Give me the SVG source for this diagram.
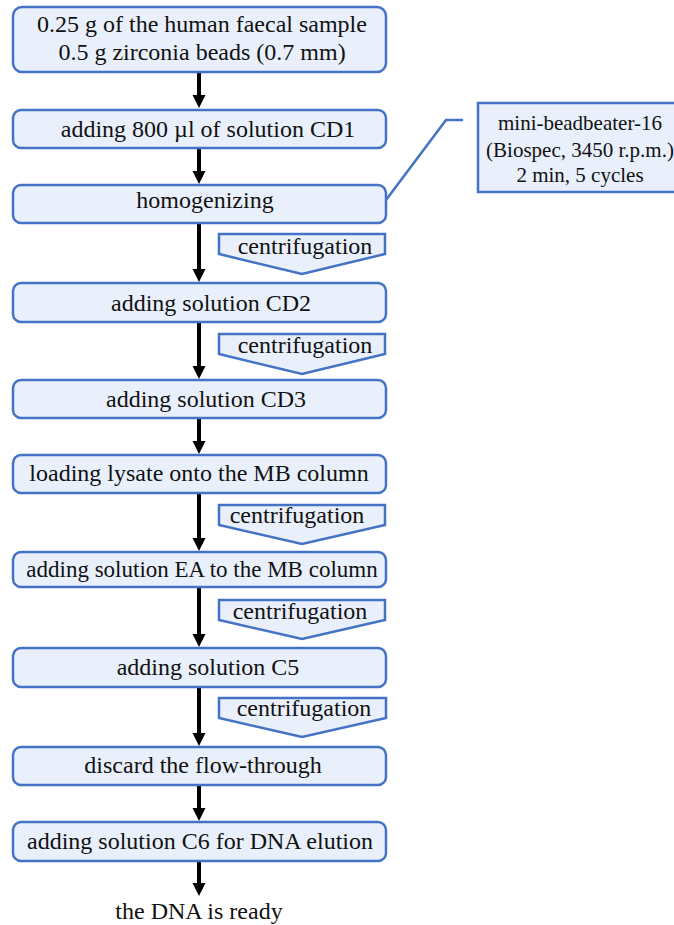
<svg xmlns="http://www.w3.org/2000/svg" width="674" height="925" viewBox="0 0 674 925">
<style>
.box{fill:#e9f0fc;stroke:#4472c4;stroke-width:2.5}
.cf{fill:#e9f0fc;stroke:#4472c4;stroke-width:2.5;stroke-linejoin:miter}
.t{font-family:"Liberation Serif","Times New Roman",serif;font-size:24px;fill:#111;text-anchor:middle}
.s{font-family:"Liberation Serif","Times New Roman",serif;font-size:21px;fill:#111;text-anchor:middle}
.arr{stroke:#000;stroke-width:4;fill:none;marker-end:url(#ah)}
.lead{stroke:#4472c4;stroke-width:2.5;fill:none}
</style>
<defs>
<marker id="ah" markerUnits="userSpaceOnUse" markerWidth="14" markerHeight="14" refX="5" refY="6.5" orient="auto">
<path d="M0,0 L13,6.5 L0,13 Z" fill="#000"/>
</marker>
</defs>
<rect width="674" height="925" fill="#fff"/>
<g id="connectors">
<line class="arr" x1="199" y1="72" x2="199" y2="100"/>
<line class="arr" x1="199" y1="148" x2="199" y2="176"/>
<line class="arr" x1="199" y1="223" x2="199" y2="274"/>
<line class="arr" x1="199" y1="322" x2="199" y2="371"/>
<line class="arr" x1="199" y1="418" x2="199" y2="446"/>
<line class="arr" x1="199" y1="493" x2="199" y2="543"/>
<line class="arr" x1="199" y1="587" x2="199" y2="639"/>
<line class="arr" x1="199" y1="687" x2="199" y2="738"/>
<line class="arr" x1="199" y1="785" x2="199" y2="813"/>
<line class="arr" x1="199" y1="861" x2="199" y2="888"/>
<polyline class="lead" points="386,200 446,120 463,120"/>
</g>
<g id="n1"><rect class="box" x="13" y="7" width="373" height="65" rx="9"/>
<text class="t" x="202" y="32">0.25 g of the human faecal sample</text>
<text class="t" x="202" y="60">0.5 g zirconia beads (0.7 mm)</text></g>
<g id="n2"><rect class="box" x="13" y="110" width="373" height="38" rx="8"/>
<text class="t" x="208" y="137">adding 800 µl of solution CD1</text></g>
<g id="n3"><rect class="box" x="13" y="185" width="373" height="38" rx="8"/>
<text class="t" x="205" y="208">homogenizing</text></g>
<g id="note"><rect class="box" x="478" y="103" width="210" height="89"/>
<text class="s" x="580" y="130">mini-beadbeater-16</text>
<text class="s" x="580" y="157">(Biospec, 3450 r.p.m.)</text>
<text class="s" x="580" y="182">2 min, 5 cycles</text></g>
<g id="c1"><polygon class="cf" points="219,234 385,234 385,254 302,274 219,254"/>
<text class="t" x="305" y="254">centrifugation</text></g>
<g id="n4"><rect class="box" x="13" y="283" width="373" height="39" rx="8"/>
<text class="t" x="211" y="311">adding solution CD2</text></g>
<g id="c2"><polygon class="cf" points="219,334 385,334 385,354 302,374 219,354"/>
<text class="t" x="305" y="353">centrifugation</text></g>
<g id="n5"><rect class="box" x="13" y="380" width="373" height="38" rx="8"/>
<text class="t" x="206" y="407">adding solution CD3</text></g>
<g id="n6"><rect class="box" x="13" y="455" width="373" height="38" rx="8"/>
<text class="t" x="199" y="481">loading lysate onto the MB column</text></g>
<g id="c3"><polygon class="cf" points="219,505 385,505 385,525 302,544 219,525"/>
<text class="t" x="297" y="523">centrifugation</text></g>
<g id="n7"><rect class="box" x="13" y="552" width="373" height="35" rx="8"/>
<text class="t" x="202" y="577" style="font-size:23px">adding solution EA to the MB column</text></g>
<g id="c4"><polygon class="cf" points="219,600 385,600 385,620 302,639 219,620"/>
<text class="t" x="300" y="619">centrifugation</text></g>
<g id="n8"><rect class="box" x="13" y="648" width="373" height="39" rx="8"/>
<text class="t" x="208" y="675">adding solution C5</text></g>
<g id="c5"><polygon class="cf" points="219,698 386,698 386,718 302,737 219,718"/>
<text class="t" x="304" y="716">centrifugation</text></g>
<g id="n9"><rect class="box" x="13" y="747" width="373" height="38" rx="8"/>
<text class="t" x="203" y="773">discard the flow-through</text></g>
<g id="n10"><rect class="box" x="13" y="822" width="373" height="39" rx="8"/>
<text class="t" x="200" y="849">adding solution C6 for DNA elution</text></g>
<g id="end"><text class="t" x="199" y="919">the DNA is ready</text></g>
</svg>
